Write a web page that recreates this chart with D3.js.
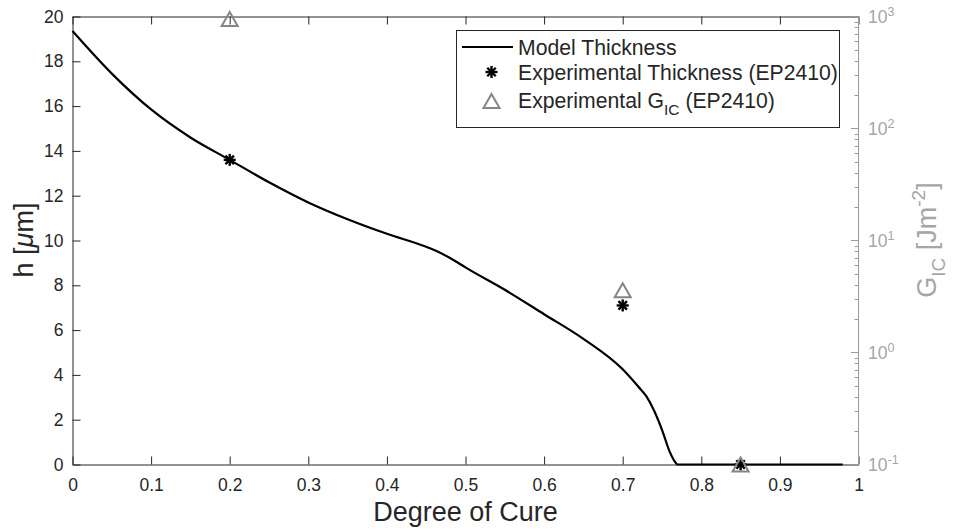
<!DOCTYPE html>
<html>
<head>
<meta charset="utf-8">
<script src="https://cdn.jsdelivr.net/npm/d3@7"></script>
<style>
  body { margin: 0; background: #fff; }
  text { font-family: "Liberation Sans", Arial, Helvetica, sans-serif; }
</style>
</head>
<body>
<svg id="chart" width="956" height="530"></svg>
<script>
// Model film thickness vs. degree of cure
const cureDegree = [0, 0.05, 0.1, 0.15, 0.2, 0.25, 0.3, 0.35, 0.4, 0.45, 0.465, 0.49, 0.5, 0.55, 0.6, 0.65, 0.7, 0.72, 0.73, 0.74, 0.75, 0.76, 0.765, 0.77, 0.8, 0.9, 0.98];
const modelThickness = [19.35, 17.45, 15.85, 14.6, 13.6, 12.6, 11.7, 10.95, 10.3, 9.72, 9.5, 9.02, 8.8, 7.8, 6.71, 5.61, 4.25, 3.47, 3.05, 2.4, 1.55, 0.55, 0.2, 0, 0, 0, 0];

// Experimental points (EP2410)
const expCure = [0.2, 0.7, 0.85];
const expThickness = [13.6, 7.1, 0];
const expGic = [950, 3.6, 0.1];

// Tick values
const xTicks = [0, 0.1, 0.2, 0.3, 0.4, 0.5, 0.6, 0.7, 0.8, 0.9, 1];
const yTicks = [0, 2, 4, 6, 8, 10, 12, 14, 16, 18, 20];
const gicExponents = [-1, 0, 1, 2, 3];

const svg = d3.select("#chart");
const axisColor = "#262626";
const rightColor = "#9a9a9a";
const markerGray = "#858585";
const tickFont = "17.5px";

const x = d3.scaleLinear().domain([0, 1]).range([72.5, 858.5]);
const y = d3.scaleLinear().domain([0, 20]).range([464.5, 16.5]);
const yR = d3.scaleLog().domain([0.1, 1000]).range([464.5, 16.5]);

const fmtX = d => d === 0 ? "0" : d === 1 ? "1" : d3.format(".1f")(d);

// bottom axis
const gB = svg.append("g").attr("transform", "translate(0,464.5)")
  .call(d3.axisBottom(x).tickValues(xTicks).tickFormat(fmtX).tickSize(-8).tickSizeOuter(0).tickPadding(14));
// top axis (ticks only)
const gT = svg.append("g").attr("transform", "translate(0,16.5)")
  .call(d3.axisTop(x).tickValues(xTicks).tickFormat("").tickSize(-8).tickSizeOuter(0));
// left axis
const gL = svg.append("g").attr("transform", "translate(72.5,0)")
  .call(d3.axisLeft(y).tickValues(yTicks).tickSize(-8).tickSizeOuter(0).tickPadding(9));

[gB, gT, gL].forEach(g => {
  g.select(".domain").attr("stroke", axisColor).attr("stroke-width", 1);
  g.selectAll(".tick line").attr("stroke", axisColor);
  g.selectAll(".tick text").attr("fill", axisColor).style("font-size", tickFont)
    .style("font-family", "'Liberation Sans', Arial, sans-serif");
});

// right log axis
const gR = svg.append("g");
gR.append("line").attr("x1", 858.5).attr("x2", 858.5).attr("y1", 16.5).attr("y2", 464.5)
  .attr("stroke", rightColor).attr("stroke-width", 1);
const minorVals = [];
for (let e = -1; e < 3; e++) for (let k = 2; k <= 9; k++) minorVals.push(k * Math.pow(10, e));
gR.selectAll("line.minor").data(minorVals).join("line").attr("class", "minor")
  .attr("x1", 858.5).attr("x2", 854.5)
  .attr("y1", d => Math.round(yR(d)) + 0.5).attr("y2", d => Math.round(yR(d)) + 0.5)
  .attr("stroke", rightColor);
gR.selectAll("line.major").data(gicExponents).join("line").attr("class", "major")
  .attr("x1", 858.5).attr("x2", 851)
  .attr("y1", d => yR(Math.pow(10, d))).attr("y2", d => yR(Math.pow(10, d)))
  .attr("stroke", rightColor);
const rLab = gR.selectAll("text.rl").data(gicExponents).join("text").attr("class", "rl")
  .attr("x", 868).attr("y", d => yR(Math.pow(10, d)) + 6.5)
  .attr("fill", "#a6a6a6").style("font-size", tickFont);
rLab.append("tspan").text("10");
rLab.append("tspan").attr("dy", -7.5).style("font-size", "12.5px").text(d => d);

// model curve
const line = d3.line().x((d, i) => x(cureDegree[i])).y(d => y(d)).curve(d3.curveMonotoneX);
svg.append("path").datum(modelThickness).attr("d", line)
  .attr("fill", "none").attr("stroke", "#000").attr("stroke-width", 2.2);

// marker helpers
function asterisk(g, cx, cy, r) {
  const a = r * Math.SQRT1_2;
  const segs = [[-r, 0, r, 0], [0, -r, 0, r], [-a, -a, a, a], [-a, a, a, -a]];
  g.append("g").selectAll("line").data(segs).join("line")
    .attr("x1", s => cx + s[0]).attr("y1", s => cy + s[1])
    .attr("x2", s => cx + s[2]).attr("y2", s => cy + s[3])
    .attr("stroke", "#000").attr("stroke-width", 2.4).attr("stroke-linecap", "butt");
}
function triangle(g, cx, cy, w) {
  const h = w * 0.87;
  g.append("path")
    .attr("d", `M${cx},${cy - h / 2}L${cx + w / 2},${cy + h / 2}L${cx - w / 2},${cy + h / 2}Z`)
    .attr("fill", "none").attr("stroke", markerGray).attr("stroke-width", 2);
}

const marks = svg.append("g");
expCure.forEach((c, i) => asterisk(marks, x(c), y(expThickness[i]), 6));
expCure.forEach((c, i) => triangle(marks, x(c), yR(expGic[i]), 16));

// legend
const lg = svg.append("g");
lg.append("rect").attr("x", 456.5).attr("y", 30.5).attr("width", 383).attr("height", 97)
  .attr("fill", "#fff").attr("stroke", axisColor).attr("stroke-width", 1);
lg.append("line").attr("x1", 462).attr("x2", 513).attr("y1", 47).attr("y2", 47)
  .attr("stroke", "#000").attr("stroke-width", 2.2);
asterisk(lg, 491.5, 72, 6);
triangle(lg, 491.5, 101, 16);
const legendFont = "21.2px";
lg.append("text").attr("x", 518).attr("y", 55).attr("fill", axisColor).style("font-size", legendFont).text("Model Thickness");
lg.append("text").attr("x", 518).attr("y", 80).attr("fill", axisColor).style("font-size", legendFont).text("Experimental Thickness (EP2410)");
const t3 = lg.append("text").attr("x", 518).attr("y", 108).attr("fill", axisColor).style("font-size", legendFont);
t3.append("tspan").text("Experimental G");
t3.append("tspan").attr("dy", 7).style("font-size", "15.5px").text("IC");
t3.append("tspan").attr("dy", -7).text(" (EP2410)");

// axis titles
svg.append("text").attr("x", 465.5).attr("y", 521).attr("text-anchor", "middle")
  .attr("fill", axisColor).style("font-size", "27px").text("Degree of Cure");

const hl = svg.append("text").attr("transform", "translate(33,240) rotate(-90)")
  .attr("text-anchor", "middle").attr("fill", axisColor).style("font-size", "27px");
hl.append("tspan").text("h [");
hl.append("tspan").style("font-style", "italic").text("μ");
hl.append("tspan").text("m]");

const gl = svg.append("text").attr("transform", "translate(936,240) rotate(-90)")
  .attr("text-anchor", "middle").attr("fill", "#a6a6a6").style("font-size", "27px");
gl.append("tspan").text("G");
gl.append("tspan").attr("dy", 9).style("font-size", "19px").text("IC");
gl.append("tspan").attr("dy", -9).text(" [Jm");
gl.append("tspan").attr("dy", -11).style("font-size", "19px").text("-2");
gl.append("tspan").attr("dy", 11).text("]");
</script>
</body>
</html>
